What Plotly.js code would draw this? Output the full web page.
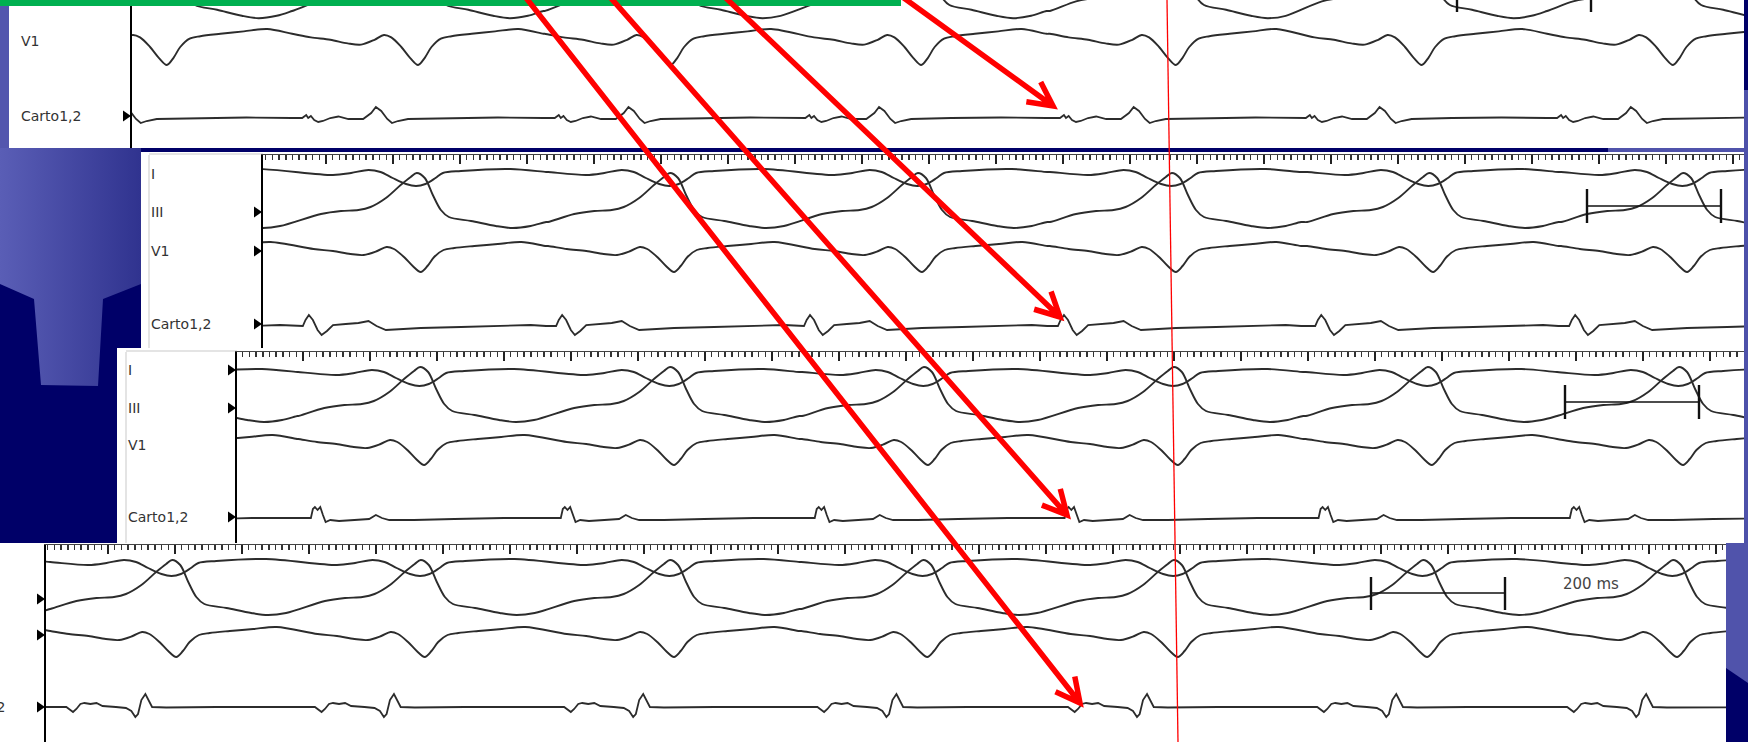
<!DOCTYPE html>
<html><head><meta charset="utf-8">
<script src="https://cdn.plot.ly/plotly-3.0.1.min.js"></script>
<style>html,body{margin:0;padding:0;background:#000068;overflow:hidden}#chart{width:1748px;height:742px}</style>
</head><body><div id="chart"></div>
<script>
// ===================== DATA =====================
// Beat times (ms): V1 QRS nadir of every complex, per recording panel
const beats1 = [249, 624, 1001, 1375, 1755, 2122, 2497];
const beats2 = [254, 628, 1006, 1376, 1755, 2139, 2518];
const beats3 = [257, 633, 1006, 1385, 1758, 2137, 2512];
const beats4 = [-112, 263, 634, 1006, 1384, 1758, 2130, 2503];

// One complex of each surface lead: time offset from V1 nadir (ms) and amplitude
const leadI_dx  = [-188, -131, -104, -78, -60, -42, -22, -7, 7, 22, 33, 60, 134, 187];
const leadI_val = [-2, -5, -3, 0, -2, -8, -14, -16, -14, -8, -3, -1, 1, -2];
const leadIII_dx  = [-188, -149, -119, -93, -75, -52, -30, -15, -6, 6, 18, 30, 42, 75, 112, 137, 164, 187];
const leadIII_val = [-10, -2, 1, 2, 5, 14, 27, 35, 39, 34, 17, 2, -5, -9, -14, -16, -14, -10];
const leadV1_dx  = [-188, -160, -131, -105, -85, -65, -51, -40, -25, -12, 0, 10, 20, 34, 50, 80, 115, 150, 187];
const leadV1_val = [1, -2, -4, -7, -8, -4, 0, -2, -10, -19, -25, -19, -10, -3, -1, 1, 3, 5, 1];

// Carto1,2 bipolar electrogram, one complex per panel
const carto1_dx  = [-188, -173, -167, -164, -160, -155, -149, -142, -131, -119, -104, -82, -70, -63, -55, -46, -39, -30, -15, 45, 119, 187];
const carto1_val = [0, 0, 3, 0, 2, -2, -4, -3, 0, 1.5, -1, -1, 5, 11, 7, -1, -5, -3, -1, 0, 0.5, 0];
const carto2_dx  = [-188, -176, -172, -167, -161, -154, -148, -140, -131, -112, -93, -78, -66, -52, -30, 0, 60, 119, 164, 187];
const carto2_val = [1, 1, 7, 12, 7, -3, -8, -4, 2, 3, 4, 6, 1, -3, -2, -1, 0, 1, 2, 1];
const carto3_dx  = [-188, -169, -166, -163, -159, -155, -151, -147, -140, -127, -104, -82, -72, -63, -52, -15, 45, 119, 187];
const carto3_val = [0, 0, 9, 11, 8, 11, 3, -4, -2, -3, -2, -1, 3, 0, -2, -2, -1, 0, 0];
const carto4_dx  = [-188, -164, -158, -154, -149, -143, -137, -128, -119, -110, -90, -75, -67, -61, -57, -52, -46, -42, -36, -15, 60, 187];
const carto4_val = [0, 0, -3, -5, -2, 3, 4, 3, 4, 1, 0, -1, -4, -10, -7, 7, 13, 8, 0, -0.5, 0, 0];

const leadLabels = ['I', 'III', 'V1', 'Carto1,2'];
const calibrationMs = 200;
const calibrationText = '200 ms';

// ===================== LAYOUT / GEOMETRY =====================
const W = 1748, H = 742, PXMS = 0.67;
const PX = x => x / W, PY = y => 1 - y / H;

const surface = {I: [leadI_dx, leadI_val], III: [leadIII_dx, leadIII_val], V1: [leadV1_dx, leadV1_val]};
const panels = [
  {beats: beats1, carto: [carto1_dx, carto1_val], x0: 132, x1: 1744, y0: 0, y1: 148, gain: 1.2,
   base: {I: -47, III: -1, V1: 35, C: 118}, tick0: null, cal: {x: 1457, y: -8, t0: -30, t1: 12},
   labels: [[2, 41], [3, 116]], labelX: 19, triY: [116]},
  {beats: beats2, carto: [carto2_dx, carto2_val], x0: 263, x1: 1744, y0: 155, y1: 348, gain: 1,
   base: {I: 170, III: 212, V1: 247, C: 327}, tick0: 795, cal: {x: 1587, y: 206, t0: 189, t1: 223},
   labels: [[0, 174], [1, 212], [2, 251], [3, 324]], labelX: 149, triY: [212, 251, 324]},
  {beats: beats3, carto: [carto3_dx, carto3_val], x0: 237, x1: 1744, y0: 352, y1: 543, gain: 1,
   base: {I: 370, III: 406, V1: 440, C: 518}, tick0: 772, cal: {x: 1565, y: 402, t0: 385, t1: 419},
   labels: [[0, 370], [1, 408], [2, 445], [3, 517]], labelX: 126, triY: [370, 408, 517]},
  {beats: beats4, carto: [carto4_dx, carto4_val], x0: 46, x1: 1726, y0: 545, y1: 742, gain: 1,
   base: {I: 560, III: 599, V1: 632, C: 707}, tick0: 778, cal: {x: 1371, y: 593, t0: 577, t1: 610},
   labels: [], labelX: 0, triY: [599, 635, 707]}
];

function build(beats, dx, val) {
  const xs = [], ys = [];
  for (let i = 0; i < beats.length; i++) {
    const lo = i > 0 ? (beats[i - 1] + beats[i]) / 2 : -Infinity;
    const hi = i < beats.length - 1 ? (beats[i] + beats[i + 1]) / 2 : Infinity;
    for (let j = 0; j < dx.length; j++) {
      const t = beats[i] + dx[j];
      if (t >= lo && t < hi) { xs.push(t); ys.push(val[j]); }
    }
  }
  return [xs, ys];
}

const traces = [];
// background gradient block (left side of slide)
traces.push({type: 'scatter', mode: 'lines', xaxis: 'x', yaxis: 'y',
  x: [0, 141, 141, 103, 98, 41, 34, 0], y: [148, 148, 284, 299, 386, 385, 299, 284],
  fill: 'toself', line: {width: 0, color: 'rgba(0,0,0,0)'},
  fillgradient: {type: 'horizontal', colorscale: [[0, '#5a5eb6'], [1, '#30338f']]},
  hoverinfo: 'skip', showlegend: false});

const layout = {
  width: W, height: H, margin: {l: 0, r: 0, t: 0, b: 0, pad: 0},
  paper_bgcolor: '#000068', plot_bgcolor: 'rgba(0,0,0,0)', showlegend: false, hovermode: false,
  xaxis: {domain: [0, 1], range: [0, W], visible: false, fixedrange: true},
  yaxis: {domain: [0, 1], range: [H, 0], visible: false, fixedrange: true},
  shapes: [], annotations: []
};
const S = layout.shapes, A = layout.annotations;

const rectP = (x0, y0, x1, y1, fill, layer) => S.push({type: 'rect', xref: 'paper', yref: 'paper',
  x0: PX(x0), x1: PX(x1), y0: PY(y1), y1: PY(y0), fillcolor: fill, line: {width: 0}, layer: layer || 'below'});
rectP(0, 0, 9, 148, '#5356ae');
rectP(1608, 148, 1748, 152, '#5053ab');
rectP(1744, 90, 1748, 543, '#4d51aa');
S.push({type: 'path', xref: 'paper', yref: 'paper', layer: 'below', fillcolor: '#5053ab', line: {width: 0},
  path: `M${PX(1726)},${PY(543)} L${PX(1748)},${PY(543)} L${PX(1748)},${PY(683)} L${PX(1726)},${PY(668)} Z`});
// white recording panels
rectP(9, 0, 1744, 148, '#ffffff');
rectP(141, 152, 1744, 348, '#ffffff');
rectP(117, 348, 1744, 543, '#ffffff');
rectP(0, 543, 1726, 742, '#ffffff');
const lineP = (x0, y0, x1, y1, color, w, layer) => S.push({type: 'line', xref: 'paper', yref: 'paper',
  x0: PX(x0), y0: PY(y0), x1: PX(x1), y1: PY(y1), line: {color: color, width: w}, layer: layer || 'below'});
lineP(149, 155, 149, 348, '#c9c9c9', 1);
lineP(149, 154, 263, 154, '#c9c9c9', 1);
lineP(126, 352, 126, 543, '#c9c9c9', 1);
lineP(126, 351, 237, 351, '#c9c9c9', 1);

panels.forEach((p, k) => {
  const n = k + 2, xa = 'x' + n, ya = 'y' + n;
  ['I', 'III', 'V1'].forEach(ld => {
    const [xs, vs] = build(p.beats, surface[ld][0], surface[ld][1]);
    traces.push({type: 'scatter', mode: 'lines', x: xs, y: vs.map(v => p.base[ld] - p.gain * v),
      xaxis: xa, yaxis: ya, line: {color: '#2c2c2c', width: 1.9, shape: 'spline', smoothing: 0.9},
      hoverinfo: 'skip', showlegend: false});
  });
  const [cx, cv] = build(p.beats, p.carto[0], p.carto[1]);
  traces.push({type: 'scatter', mode: 'lines', x: cx, y: cv.map(v => p.base.C - v),
    xaxis: xa, yaxis: ya, line: {color: '#2c2c2c', width: 1.8, shape: 'linear'},
    hoverinfo: 'skip', showlegend: false});

  const ruler = p.tick0 !== null;
  layout['xaxis' + n] = {domain: [PX(p.x0), PX(p.x1)], range: [p.x0 / PXMS, p.x1 / PXMS], anchor: ya,
    side: 'top', showline: ruler, linecolor: '#444', linewidth: 1.2, showgrid: false, zeroline: false,
    ticks: ruler ? 'inside' : '', ticklen: 9, tickwidth: 1.8, tickcolor: '#222',
    dtick: 100, tick0: ruler ? p.tick0 / PXMS : 0, showticklabels: false, fixedrange: true,
    minor: ruler ? {dtick: 10, tick0: p.tick0 / PXMS, ticks: 'inside', ticklen: 5, tickwidth: 1.5, tickcolor: '#333', showgrid: false} : {ticks: ''}};
  layout['yaxis' + n] = {domain: [PY(p.y1), PY(p.y0)], range: [p.y1, p.y0], anchor: xa,
    showline: true, linecolor: '#000', linewidth: 2, ticks: '', showticklabels: false,
    showgrid: false, zeroline: false, fixedrange: true};

  // 200 ms calibration bar in the panel's own time axis
  const c = p.cal, t0 = c.x / PXMS;
  const lineD = (x0, y0, x1, y1, w) => S.push({type: 'line', xref: xa, yref: ya, x0, y0, x1, y1,
    line: {color: '#111', width: w}, layer: 'above'});
  lineD(t0, c.y, t0 + calibrationMs, c.y, 1.6);
  lineD(t0, c.t0, t0, c.t1, 2.4);
  lineD(t0 + calibrationMs, c.t0, t0 + calibrationMs, c.t1, 2.4);

  p.labels.forEach(([li, y]) => A.push({xref: 'paper', yref: 'paper', x: PX(p.labelX), y: PY(y),
    xanchor: 'left', yanchor: 'middle', showarrow: false, text: leadLabels[li],
    font: {family: 'DejaVu Sans, Arial', size: 14, color: '#333'}}));
  p.triY.forEach(y => S.push({type: 'path', xref: 'paper', yref: 'paper', layer: 'above',
    fillcolor: '#000', line: {width: 0},
    path: `M${PX(p.x0 - 9)},${PY(y - 5.5)} L${PX(p.x0 - 1)},${PY(y)} L${PX(p.x0 - 9)},${PY(y + 5.5)} Z`}));
});
// label of the bottom panel, cut by the slide edge as in the original
A.push({xref: 'paper', yref: 'paper', x: PX(7), y: PY(707), xanchor: 'right', yanchor: 'middle',
  showarrow: false, text: leadLabels[3], font: {family: 'DejaVu Sans, Arial', size: 14, color: '#333'}});
A.push({xref: 'paper', yref: 'paper', x: PX(1591), y: PY(584), xanchor: 'center', yanchor: 'middle',
  showarrow: false, text: calibrationText, font: {family: 'DejaVu Sans, Arial', size: 15, color: '#444'}});

// green title bar, red reference line
rectP(0, 0, 901, 6, '#00b050', 'above');
lineP(1167, 0, 1178, 742, '#ff0000', 1.3, 'above');

// red arrows: [tail x, tail y, tip x, tip y] in slide pixels, open chevron heads
const arrows = [[879, -20, 1053, 106], [707, -20, 1060, 317], [595, -20, 1067, 515], [512, -20, 1080, 703]];
arrows.forEach(([tx, ty, hx, hy]) => {
  const ang = Math.atan2(ty - hy, tx - hx), L = 27, spread = 27 * Math.PI / 180;
  const b1 = [hx + L * Math.cos(ang + spread), hy + L * Math.sin(ang + spread)];
  const b2 = [hx + L * Math.cos(ang - spread), hy + L * Math.sin(ang - spread)];
  S.push({type: 'path', xref: 'paper', yref: 'paper', layer: 'above', fillcolor: 'rgba(0,0,0,0)',
    line: {color: '#ff0000', width: 5.5},
    path: `M${PX(tx)},${PY(ty)} L${PX(hx)},${PY(hy)} M${PX(b1[0])},${PY(b1[1])} L${PX(hx)},${PY(hy)} L${PX(b2[0])},${PY(b2[1])}`});
});

Plotly.newPlot('chart', traces, layout, {staticPlot: true, displayModeBar: false});
</script></body></html>
